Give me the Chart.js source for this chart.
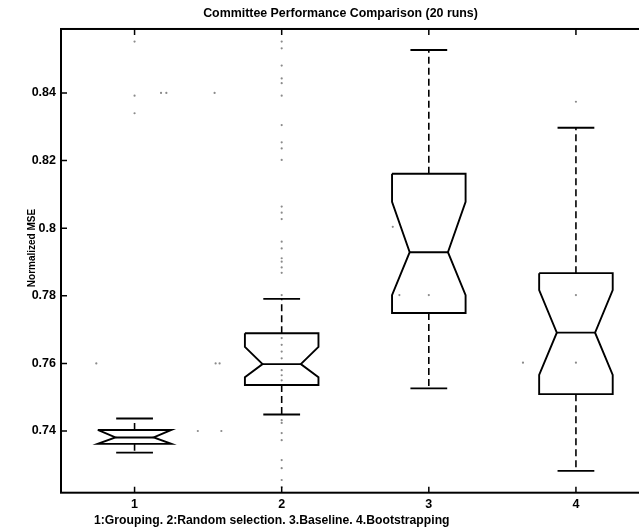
<!DOCTYPE html>
<html>
<head>
<meta charset="utf-8">
<script src="https://cdn.jsdelivr.net/npm/chart.js@4.4.1/dist/chart.umd.min.js"></script>
<style>
  body { margin: 0; overflow: hidden; background: #fff; }
</style>
</head>
<body>
<canvas id="boxChart" width="681" height="529"></canvas>
<script>
// données
const categories = [1, 2, 3, 4];
const xTickLabels = ['1', '2', '3', '4'];
const yTicks = [0.74, 0.76, 0.78, 0.80, 0.82, 0.84];
const yTickLabels = ['0.74', '0.76', '0.78', '0.8', '0.82', '0.84'];

const whiskerLow  = [0.7336, 0.7449, 0.7526, 0.7282];
const q1          = [0.7362, 0.7536, 0.7749, 0.7509];
const notchLow    = [0.7362, 0.7559, 0.7802, 0.7566];
const medians     = [0.7381, 0.7598, 0.7929, 0.7691];
const notchHigh   = [0.7403, 0.7649, 0.8078, 0.7817];
const q3          = [0.7403, 0.7689, 0.8161, 0.7867];
const whiskerHigh = [0.7437, 0.7791, 0.8527, 0.8297];

// valeurs isolées (points gris) par colonne
const outliers1 = [0.8552, 0.8392, 0.8340];
const outliers2 = [0.8552, 0.8532, 0.8481, 0.8443, 0.8429, 0.8392, 0.8305, 0.8254, 0.8236, 0.8202,
                   0.8064, 0.8046, 0.8027, 0.7960, 0.7940, 0.7911, 0.7901, 0.7884, 0.7868, 0.7802,
                   0.7675, 0.7655, 0.7635, 0.7615, 0.7580, 0.7565, 0.7550,
                   0.7432, 0.7424, 0.7394, 0.7373, 0.7314, 0.7290, 0.7255, 0.7234];
const outliers3 = [0.7802];
const outliers4 = [0.8374, 0.7802, 0.7602];
// points parasites hors des colonnes
const strayX = [1.18, 1.216, 1.544, 0.74, 1.551, 1.578, 1.43, 1.59, 2.755, 2.80, 3.64];
const strayY = [0.84, 0.84, 0.84, 0.76, 0.76, 0.76, 0.74, 0.74, 0.8004, 0.7802, 0.7602];

const titleText = 'Committee Performance Comparison (20 runs)';
const yTitle = 'Normalized MSE';
const xTitle = '1:Grouping. 2:Random selection. 3.Baseline. 4.Bootstrapping';

const FONT = '"Liberation Sans", Arial, sans-serif';
const HALF = 0.25;   // demi-largeur de la boîte
const NOTCH = 0.13;  // demi-largeur au niveau de la médiane
const CAP = 0.125;   // demi-largeur des moustaches

function ligne(points, extra) {
  return Object.assign({
    data: points,
    showLine: true,
    borderColor: '#000',
    borderWidth: 1.9,
    pointRadius: 0,
    fill: false,
    tension: 0
  }, extra || {});
}

// construire les boîtes à encoche
const datasets = [];
categories.forEach((c, i) => {
  datasets.push(ligne([
    {x: c - HALF, y: q3[i]}, {x: c + HALF, y: q3[i]},
    {x: c + HALF, y: notchHigh[i]}, {x: c + NOTCH, y: medians[i]},
    {x: c + HALF, y: notchLow[i]}, {x: c + HALF, y: q1[i]},
    {x: c - HALF, y: q1[i]}, {x: c - HALF, y: notchLow[i]},
    {x: c - NOTCH, y: medians[i]}, {x: c - HALF, y: notchHigh[i]},
    {x: c - HALF, y: q3[i]}
  ]));
  datasets.push(ligne([{x: c - NOTCH, y: medians[i]}, {x: c + NOTCH, y: medians[i]}]));
  // moustaches en pointillés
  datasets.push(ligne([{x: c, y: q3[i]}, {x: c, y: whiskerHigh[i]}], {borderDash: [7, 4], borderWidth: 1.6}));
  datasets.push(ligne([{x: c, y: q1[i]}, {x: c, y: whiskerLow[i]}], {borderDash: [7, 4], borderWidth: 1.6}));
  datasets.push(ligne([{x: c - CAP, y: whiskerHigh[i]}, {x: c + CAP, y: whiskerHigh[i]}]));
  datasets.push(ligne([{x: c - CAP, y: whiskerLow[i]}, {x: c + CAP, y: whiskerLow[i]}]));
});

// points isolés
const pts = [];
[outliers1, outliers2, outliers3, outliers4].forEach((list, i) => {
  list.forEach(v => pts.push({x: categories[i], y: v}));
});
strayX.forEach((v, i) => pts.push({x: v, y: strayY[i]}));
datasets.push({
  data: pts,
  pointRadius: 1.1,
  pointBackgroundColor: '#8a8a8a',
  pointBorderWidth: 0
});

// cadre, graduations intérieures et titres des axes
const cadrePlugin = {
  id: 'cadre',
  afterDraw(chart) {
    const ctx = chart.ctx;
    const a = chart.chartArea;
    const x = chart.scales.x;
    const y = chart.scales.y;
    ctx.save();
    ctx.strokeStyle = '#000';
    ctx.lineWidth = 2;
    ctx.strokeRect(a.left, a.top, a.right - a.left, a.bottom - a.top);
    ctx.lineWidth = 1.5;
    ctx.beginPath();
    x.ticks.forEach(t => {
      const px = x.getPixelForValue(t.value);
      ctx.moveTo(px, a.bottom); ctx.lineTo(px, a.bottom - 6);
      ctx.moveTo(px, a.top); ctx.lineTo(px, a.top + 6);
    });
    y.ticks.forEach(t => {
      const py = y.getPixelForValue(t.value);
      ctx.moveTo(a.left, py); ctx.lineTo(a.left + 6, py);
      ctx.moveTo(a.right, py); ctx.lineTo(a.right - 6, py);
    });
    ctx.stroke();
    ctx.fillStyle = '#000';
    ctx.font = 'bold 12.2px ' + FONT;
    ctx.textAlign = 'left';
    ctx.textBaseline = 'middle';
    ctx.fillText(xTitle, 94, 521);
    // titre vertical
    ctx.translate(32, 248);
    ctx.rotate(-Math.PI / 2);
    ctx.font = 'bold 10px ' + FONT;
    ctx.textAlign = 'center';
    ctx.fillText(yTitle, 0, 0);
    ctx.restore();
  }
};

new Chart(document.getElementById('boxChart'), {
  type: 'scatter',
  data: { datasets: datasets },
  plugins: [cadrePlugin],
  options: {
    responsive: false,
    animation: false,
    events: [],
    plugins: {
      legend: { display: false },
      tooltip: { enabled: false },
      title: {
        display: true,
        text: titleText,
        color: '#000',
        font: { family: FONT, size: 12.4, weight: 'bold' },
        padding: { top: 6.6, bottom: 7.5 }
      }
    },
    scales: {
      x: {
        type: 'linear',
        min: 0.5,
        max: 4.5,
        grid: { display: false, drawTicks: false },
        border: { display: false },
        afterBuildTicks: scale => { scale.ticks = categories.map(v => ({value: v})); },
        afterFit: scale => { scale.height = 36.3; },
        ticks: {
          color: '#000',
          padding: 4,
          font: { family: FONT, size: 12.5, weight: 'bold' },
          callback: (v, i) => xTickLabels[i]
        }
      },
      y: {
        type: 'linear',
        min: 0.72175,
        max: 0.85893,
        grid: { display: false, drawTicks: false },
        border: { display: false },
        afterBuildTicks: scale => { scale.ticks = yTicks.map(v => ({value: v})); },
        afterFit: scale => { scale.width = 61; },
        ticks: {
          color: '#000',
          padding: 5,
          font: { family: FONT, size: 12.5, weight: 'bold' },
          callback: (v, i) => yTickLabels[i]
        }
      },
      // axe vide à droite pour garder la zone du graphe dans les bonnes limites
      y2: {
        type: 'linear',
        position: 'right',
        grid: { display: false, drawTicks: false },
        border: { display: false },
        ticks: { display: false },
        afterFit: scale => { scale.width = 31.5; }
      }
    }
  }
});
</script>
</body>
</html>
